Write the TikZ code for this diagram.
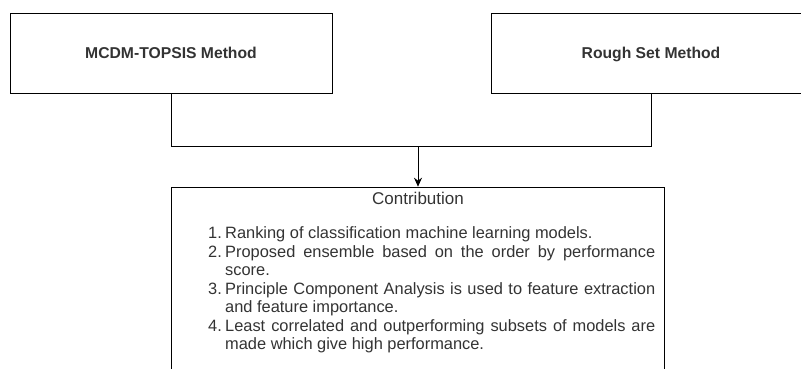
\documentclass[tikz,border=0pt]{standalone}
\usepackage{fontspec}
\setmainfont{Liberation Sans}
\usetikzlibrary{arrows.meta}
\definecolor{inkgray}{HTML}{333333}
\begin{document}
\begin{tikzpicture}[x=1pt,y=-1pt,
  box/.style={draw=black,line width=1pt,rectangle,inner sep=0pt},
  methodtext/.style={font=\fontsize{15.7}{18}\selectfont\bfseries,text=inkgray,inner sep=0pt},
  conn/.style={draw=black,line width=1pt},
  arrowconn/.style={conn,-{Stealth[length=9pt,width=8pt]}}]
  \useasboundingbox (0,0) rectangle (801,369);
  \clip (0,0) rectangle (801,369);

  % method boxes
  \node[box,minimum width=321.5pt,minimum height=80pt,anchor=north west] (mcdm) at (10,13) {};
  \node[box,minimum width=321.5pt,minimum height=80pt,anchor=north west] (rough) at (490.7,13) {};
  \node[methodtext,anchor=base] (mcdmlabel) at (171,59) {MCDM-TOPSIS Method};
  \node[methodtext,anchor=base] (roughlabel) at (651,59) {Rough Set Method};

  % contribution box
  \node[box,minimum width=493.6pt,minimum height=200pt,anchor=north west] (contrib) at (170.7,186.7) {};
  \node[font=\fontsize{17}{18}\selectfont,text=inkgray,inner sep=0pt,anchor=base] (contribtitle) at (contrib.north |- 0,204) {Contribution};
  \node[font=\fontsize{16.4}{18.5}\selectfont,text=inkgray,inner sep=0pt,anchor=north west,
        text width=447pt,align=justify] (contriblist) at (208,226.5) {%
    \hangindent=17pt\hangafter=1\noindent\makebox[17pt][l]{1.}Ranking of classification machine learning models.\par
    \hangindent=17pt\hangafter=1\noindent\makebox[17pt][l]{2.}Proposed ensemble based on the order by performance\linebreak score.\par
    \hangindent=17pt\hangafter=1\noindent\makebox[17pt][l]{3.}Principle Component Analysis is used to feature extraction\linebreak and feature importance.\par
    \hangindent=17pt\hangafter=1\noindent\makebox[17pt][l]{4.}Least correlated and outperforming subsets of models are\linebreak made which give high performance.\par};

  % connectors
  \coordinate (join) at (contrib.north |- 0,146.7);
  \draw[conn] (mcdm.south) |- (join) -| (rough.south);
  \draw[arrowconn] (join) -- (contrib.north);
\end{tikzpicture}
\end{document}
